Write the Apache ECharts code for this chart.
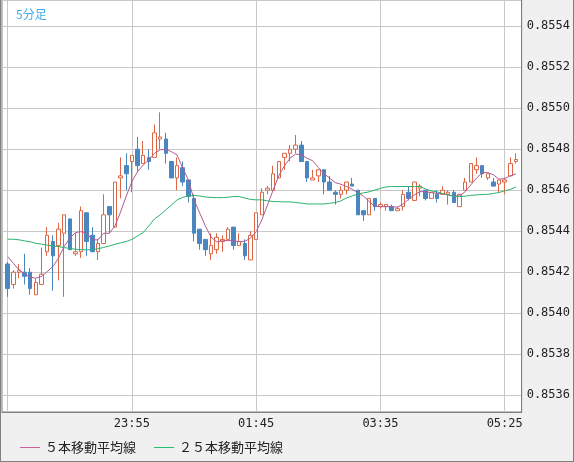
<!DOCTYPE html>
<html>
<head>
<meta charset="utf-8">
<script src="https://cdn.jsdelivr.net/npm/echarts@6/dist/echarts.min.js"></script>
<style>
  html, body { margin: 0; padding: 0; background: #f0f0f0; }
  #main { width: 572px; height: 461px; border-left: 1px solid #808080; border-right: 1px solid #808080; border-bottom: 1px solid #808080; }
</style>
</head>
<body>
<div id="main"></div>
<script>
// 5分足 22:05 - 05:35
var times = [
  '22:05','22:10','22:15','22:20','22:25','22:30','22:35','22:40','22:45','22:50','22:55',
  '23:00','23:05','23:10','23:15','23:20','23:25','23:30','23:35','23:40','23:45','23:50','23:55',
  '00:00','00:05','00:10','00:15','00:20','00:25','00:30','00:35','00:40','00:45','00:50','00:55',
  '01:00','01:05','01:10','01:15','01:20','01:25','01:30','01:35','01:40','01:45','01:50','01:55',
  '02:00','02:05','02:10','02:15','02:20','02:25','02:30','02:35','02:40','02:45','02:50','02:55',
  '03:00','03:05','03:10','03:15','03:20','03:25','03:30','03:35','03:40','03:45','03:50','03:55',
  '04:00','04:05','04:10','04:15','04:20','04:25','04:30','04:35','04:40','04:45','04:50','04:55',
  '05:00','05:05','05:10','05:15','05:20','05:25','05:30','05:35'
];

// [open, close, low, high]
var candles = [
  [0.85424,0.85412,0.85408,0.85425],[0.85414,0.85420,0.85412,0.85421],[0.85420,0.85421,0.85417,0.85424],
  [0.85420,0.85418,0.85414,0.85429],[0.85420,0.85412,0.85409,0.85422],[0.85409,0.85415,0.85409,0.85417],
  [0.85414,0.85419,0.85414,0.85432],[0.85430,0.85438,0.85428,0.85442],[0.85435,0.85428,0.85411,0.85438],
  [0.85433,0.85441,0.85416,0.85444],[0.85439,0.85448,0.85408,0.85448],[0.85446,0.85431,0.85431,0.85446],
  [0.85429,0.85430,0.85428,0.85439],[0.85430,0.85450,0.85427,0.85452],[0.85449,0.85435,0.85428,0.85449],
  [0.85438,0.85430,0.85430,0.85442],[0.85430,0.85434,0.85426,0.85436],[0.85434,0.85448,0.85434,0.85458],
  [0.85452,0.85448,0.85439,0.85452],[0.85442,0.85464,0.85442,0.85464],[0.85466,0.85467,0.85456,0.85476],
  [0.85472,0.85468,0.85460,0.85478],[0.85474,0.85477,0.85459,0.85477],[0.85480,0.85472,0.85469,0.85486],
  [0.85473,0.85477,0.85473,0.85484],[0.85476,0.85474,0.85470,0.85480],[0.85476,0.85488,0.85476,0.85492],
  [0.85485,0.85486,0.85480,0.85498],[0.85485,0.85478,0.85473,0.85488],[0.85474,0.85466,0.85466,0.85474],
  [0.85466,0.85472,0.85460,0.85476],[0.85471,0.85464,0.85462,0.85474],[0.85465,0.85457,0.85454,0.85465],
  [0.85456,0.85439,0.85435,0.85458],[0.85441,0.85434,0.85431,0.85441],[0.85436,0.85431,0.85428,0.85436],
  [0.85429,0.85433,0.85426,0.85439],[0.85431,0.85437,0.85429,0.85439],[0.85435,0.85436,0.85430,0.85438],
  [0.85436,0.85441,0.85436,0.85442],[0.85442,0.85433,0.85431,0.85442],[0.85433,0.85435,0.85433,0.85439],
  [0.85434,0.85428,0.85426,0.85436],[0.85426,0.85438,0.85426,0.85440],[0.85436,0.85449,0.85436,0.85449],
  [0.85448,0.85459,0.85448,0.85461],[0.85460,0.85461,0.85458,0.85462],[0.85460,0.85468,0.85460,0.85472],
  [0.85466,0.85474,0.85466,0.85474],[0.85476,0.85478,0.85470,0.85478],[0.85478,0.85480,0.85474,0.85482],
  [0.85480,0.85482,0.85478,0.85487],[0.85482,0.85474,0.85474,0.85484],[0.85474,0.85466,0.85464,0.85474],
  [0.85465,0.85466,0.85465,0.85470],[0.85467,0.85470,0.85464,0.85470],[0.85470,0.85464,0.85458,0.85470],
  [0.85464,0.85460,0.85460,0.85467],[0.85459,0.85458,0.85453,0.85460],[0.85458,0.85460,0.85456,0.85462],
  [0.85460,0.85464,0.85458,0.85464],[0.85463,0.85462,0.85462,0.85466],[0.85460,0.85448,0.85448,0.85460],
  [0.85450,0.85448,0.85445,0.85450],[0.85448,0.85456,0.85448,0.85456],[0.85456,0.85452,0.85450,0.85456],
  [0.85452,0.85453,0.85451,0.85454],[0.85452,0.85453,0.85450,0.85453],[0.85452,0.85450,0.85450,0.85453],
  [0.85450,0.85451,0.85450,0.85452],[0.85452,0.85458,0.85450,0.85460],[0.85459,0.85456,0.85455,0.85462],
  [0.85455,0.85464,0.85455,0.85464],[0.85461,0.85462,0.85457,0.85463],[0.85460,0.85456,0.85455,0.85460],
  [0.85456,0.85459,0.85456,0.85459],[0.85458,0.85456,0.85454,0.85460],[0.85458,0.85460,0.85458,0.85462],
  [0.85458,0.85459,0.85453,0.85460],[0.85459,0.85454,0.85454,0.85460],[0.85452,0.85458,0.85452,0.85458],
  [0.85460,0.85464,0.85460,0.85466],[0.85464,0.85473,0.85464,0.85473],[0.85470,0.85472,0.85468,0.85476],
  [0.85472,0.85468,0.85466,0.85472],[0.85466,0.85468,0.85465,0.85468],[0.85464,0.85462,0.85462,0.85466],
  [0.85463,0.85465,0.85459,0.85465],[0.85464,0.85465,0.85458,0.85466],[0.85467,0.85473,0.85467,0.85476],
  [0.85474,0.85475,0.85473,0.85478]
];

var ma5 = [
  0.854276,0.854244,0.854211,0.854192,0.854176,0.854171,0.854179,0.854203,0.854227,0.854268,
  0.854325,0.854366,0.854393,0.854398,0.854390,0.854358,0.854358,0.854390,0.854390,0.854426,
  0.854494,0.854572,0.854642,0.854691,0.854723,0.854748,0.854780,0.854797,0.854800,0.854788,
  0.854772,0.854707,0.854650,0.854553,0.854489,0.854426,0.854372,0.854348,0.854353,0.854355,
  0.854353,0.854349,0.854351,0.854366,0.854398,0.854455,0.854528,0.854601,0.854670,0.854719,
  0.854756,0.854777,0.854772,0.854756,0.854744,0.854711,0.854681,0.854659,0.854637,0.854629,
  0.854618,0.854605,0.854588,0.854572,0.854544,0.854523,0.854520,0.854520,0.854520,0.854517,
  0.854533,0.854556,0.854577,0.854593,0.854593,0.854588,0.854585,0.854582,0.854577,0.854572,
  0.854572,0.854593,0.854626,0.854659,0.854686,0.854686,0.854675,0.854654,0.854657,0.854670,
  0.854680
];

var ma25 = [
  0.854361,0.854361,0.854358,0.854353,0.854348,0.854341,0.854337,0.854332,0.854328,0.854325,
  0.854320,0.854316,0.854312,0.854310,0.854309,0.854311,0.854314,0.854321,0.854328,0.854336,
  0.854343,0.854350,0.854360,0.854377,0.854394,0.854426,0.854460,0.854480,0.854504,0.854528,
  0.854553,0.854565,0.854572,0.854574,0.854572,0.854567,0.854565,0.854564,0.854564,0.854566,
  0.854569,0.854569,0.854562,0.854555,0.854553,0.854553,0.854548,0.854545,0.854544,0.854543,
  0.854543,0.854540,0.854537,0.854533,0.854533,0.854533,0.854533,0.854536,0.854540,0.854548,
  0.854562,0.854572,0.854582,0.854587,0.854592,0.854601,0.854609,0.854616,0.854618,0.854618,
  0.854618,0.854618,0.854618,0.854618,0.854606,0.854597,0.854592,0.854584,0.854577,0.854570,
  0.854569,0.854571,0.854575,0.854577,0.854579,0.854580,0.854584,0.854589,0.854597,0.854604,
  0.854616
];

var names = ['５本移動平均線', '２５本移動平均線'];

// one empty slot on each side so the first/last candle sit one step in from the frame
var cats = [''].concat(times, ['']);
function pad(arr) { return ['-'].concat(arr, ['-']); }

var myChart = echarts.init(document.getElementById('main'));
var mono = 'DejaVu Sans Mono';
var option = {
  animation: false,
  backgroundColor: '#f0f0f0',
  title: {
    text: '5分足',
    left: 10, top: 3,
    textStyle: { color: '#3daee9', fontSize: 12, fontWeight: 'normal', fontFamily: 'Noto Sans CJK JP' }
  },
  legend: {
    data: names,
    left: 14, top: 436,
    icon: 'rect', itemWidth: 20, itemHeight: 1, itemGap: 18,
    textStyle: { fontSize: 13, color: '#222', fontFamily: 'Noto Sans CJK JP' }
  },
  grid: {
    left: 1, right: 49, top: 0, bottom: 49,
    show: true, backgroundColor: '#fff', borderColor: '#808080', borderWidth: 1
  },
  xAxis: {
    type: 'category',
    data: cats,
    boundaryGap: false,
    axisLine: { lineStyle: { color: '#808080' } },
    axisTick: { show: false },
    axisLabel: {
      interval: function (i) { return i > 1 && i % 22 === 1; },
      color: '#222', fontFamily: mono, fontSize: 12, margin: 6
    },
    splitLine: {
      show: true,
      interval: function (i) { return i % 22 === 1; },
      lineStyle: { color: '#c8c8c8' }
    }
  },
  yAxis: {
    type: 'value',
    position: 'right',
    min: 0.853518,
    max: 0.855528,
    splitNumber: 10,
    minInterval: 0.0002,
    maxInterval: 0.0002,
    axisLine: { show: true, lineStyle: { color: '#808080' } },
    axisTick: { show: false },
    axisLabel: {
      showMinLabel: false, showMaxLabel: false,
      formatter: function (v) { return v.toFixed(4); },
      color: '#222', fontFamily: mono, fontSize: 12, margin: 5
    },
    splitLine: { lineStyle: { color: '#c8c8c8' } }
  },
  series: [
    {
      type: 'candlestick',
      data: pad(candles),
      barWidth: 4,
      itemStyle: {
        color: '#ffffff', borderColor: '#dd6644',
        color0: '#4a86c0', borderColor0: '#4a86c0',
        borderWidth: 1
      }
    },
    {
      name: names[0],
      type: 'line',
      data: pad(ma5),
      showSymbol: false,
      lineStyle: { width: 1, color: '#b45a92' },
      itemStyle: { color: '#c8609a' }
    },
    {
      name: names[1],
      type: 'line',
      data: pad(ma25),
      showSymbol: false,
      lineStyle: { width: 1, color: '#2bb36d' },
      itemStyle: { color: '#22c070' }
    }
  ]
};
myChart.setOption(option);
</script>
</body>
</html>
